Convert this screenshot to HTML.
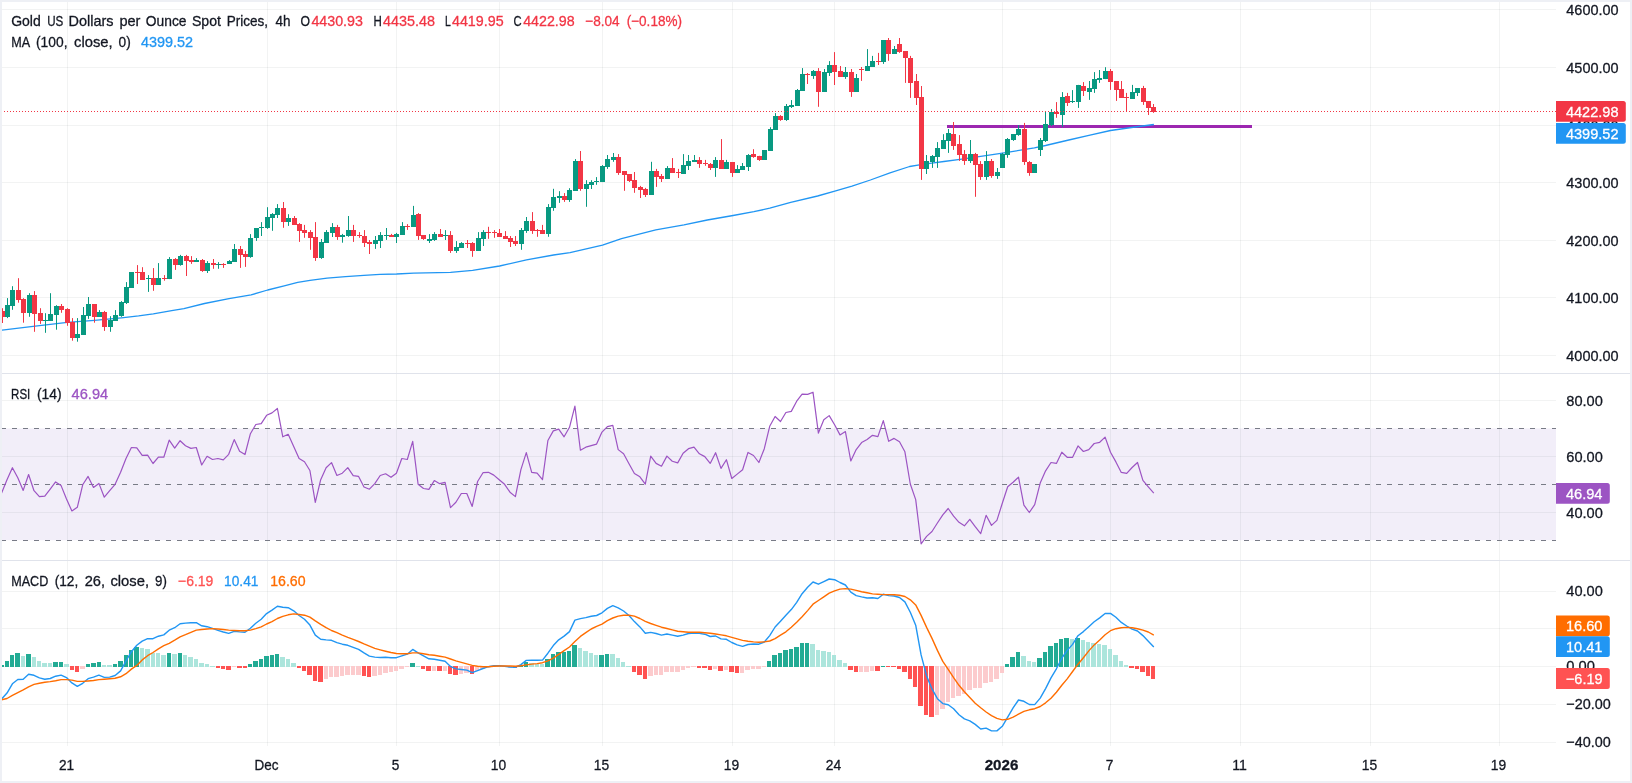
<!DOCTYPE html>
<html lang="en"><head><meta charset="utf-8"><title>Gold US Dollars per Ounce Spot Prices, 4h</title>
<style>html,body{margin:0;padding:0;background:#fff;overflow:hidden}svg{display:block;will-change:transform}</style></head>
<body>
<svg width="1632" height="783" viewBox="0 0 1632 783" font-family='"Liberation Sans", "DejaVu Sans", sans-serif' font-size="15" shape-rendering="auto">
<rect width="1632" height="783" fill="#ffffff"/>
<rect x="2" y="428.5" width="1554" height="111.7" fill="#7e57c2" fill-opacity="0.1"/>
<path d="M2 9.5H1556 M2 67.5H1556 M2 125.5H1556 M2 182.5H1556 M2 240.5H1556 M2 297.5H1556 M2 355.5H1556 M2 400.5H1556 M2 456.5H1556 M2 512.5H1556 M2 591.5H1556 M2 628.5H1556 M2 666.5H1556 M2 704.5H1556 M2 742.5H1556" stroke="#2a2e39" stroke-opacity="0.06" stroke-width="1" fill="none" shape-rendering="crispEdges"/>
<path d="M67.5 2V746 M267.5 2V746 M396.5 2V746 M499.5 2V746 M602.5 2V746 M732.5 2V746 M834.5 2V746 M1002.5 2V746 M1110.5 2V746 M1240.5 2V746 M1370.5 2V746 M1499.5 2V746" stroke="#2a2e39" stroke-opacity="0.06" stroke-width="1" fill="none" shape-rendering="crispEdges"/>
<path d="M2 373.5H1630M2 560.5H1630" stroke="#e0e3eb" stroke-width="1" shape-rendering="crispEdges"/>
<path d="M1 428.5H1556M1 484.5H1556M1 540.5H1556" stroke="#787b86" stroke-width="1" stroke-dasharray="5,6" shape-rendering="crispEdges"/>
<rect x="947" y="125" width="305" height="3" fill="#9c27b0"/>
<polyline points="0.0,330.4 33.1,326.4 67.4,322.3 94.4,320.3 121.4,317.8 138.6,315.9 153.3,313.8 171.7,310.7 183.9,308.7 204.5,303.5 229.0,298.6 251.1,294.9 267.7,290.0 284.2,285.8 297.7,282.4 310.0,280.3 327.1,278.2 345.5,276.7 363.9,275.4 380.0,274.4 396.6,274.0 413.7,273.1 450.5,272.4 472.6,270.3 499.6,266.0 526.5,259.9 553.5,255.0 570.0,252.6 602.5,245.2 621.5,238.6 655.8,229.9 684.0,224.9 707.3,220.0 733.1,215.5 753.9,211.7 769.8,208.2 790.7,202.3 817.6,196.0 834.8,191.1 852.0,186.2 870.4,180.0 890.0,172.9 909.6,166.5 919.4,164.9 931.7,163.1 943.9,161.5 960.0,159.4 975.6,157.2 1002.5,153.2 1034.4,147.8 1045.5,145.5 1068.8,140.0 1090.0,135.2 1110.5,130.5 1135.0,127.0 1153.9,124.5" fill="none" stroke="#2196f3" stroke-width="1.3" stroke-linejoin="round"/>
<path d="M7.5 298.1V318.1 M12.5 286.2V309.8 M29.5 293.2V316.8 M45.5 313.2V332.8 M50.5 293.2V320.9 M56.5 305.2V329.7 M77.5 318.1V341.7 M83.5 307.0V334.9 M88.5 297.0V318.9 M99.5 310.1V316.8 M110.5 316.2V331.8 M115.5 310.1V320.9 M121.5 301.1V316.8 M126.5 282.1V304.0 M131.5 272.1V287.8 M148.5 275.1V291.9 M158.5 263.1V284.9 M169.5 257.1V279.1 M180.5 254.9V265.7 M196.5 258.1V261.9 M207.5 261.1V273.0 M218.5 262.1V268.8 M229.5 260.1V263.9 M234.5 244.0V261.7 M250.5 234.1V257.8 M256.5 228.0V240.9 M261.5 222.1V236.0 M267.5 207.2V228.9 M272.5 213.1V230.8 M277.5 204.1V218.0 M288.5 214.2V225.9 M321.5 239.0V258.9 M326.5 230.1V242.7 M332.5 223.1V237.0 M342.5 233.9V242.7 M348.5 216.0V236.8 M375.5 236.0V248.9 M380.5 232.1V248.0 M386.5 228.0V239.9 M396.5 232.9V243.0 M402.5 222.1V234.8 M413.5 205.9V226.8 M429.5 234.1V243.0 M434.5 232.1V240.9 M445.5 230.1V240.0 M456.5 241.1V252.9 M461.5 242.1V247.9 M478.5 232.1V250.9 M483.5 230.1V246.0 M521.5 228.0V249.8 M526.5 217.0V232.9 M548.5 204.1V236.8 M553.5 188.8V210.8 M559.5 191.2V202.9 M569.5 188.2V201.9 M575.5 159.1V190.8 M586.5 180.2V206.8 M591.5 180.2V189.0 M596.5 177.1V184.8 M602.5 165.1V182.0 M607.5 155.0V168.9 M613.5 153.0V161.8 M651.5 161.8V194.9 M667.5 166.1V179.0 M683.5 154.1V173.8 M688.5 155.0V170.0 M694.5 155.0V161.8 M715.5 157.1V176.9 M726.5 159.9V168.8 M737.5 165.1V172.8 M742.5 163.0V169.8 M748.5 154.1V171.0 M764.5 150.1V159.9 M770.5 127.2V150.7 M775.5 113.1V129.9 M786.5 104.0V120.9 M791.5 100.1V108.0 M797.5 89.0V105.8 M802.5 68.1V90.9 M813.5 70.0V78.9 M824.5 69.0V91.7 M829.5 61.1V76.0 M845.5 67.0V78.9 M856.5 74.0V91.7 M867.5 49.1V70.9 M872.5 55.9V67.0 M883.5 40.0V63.9 M894.5 46.0V54.0 M926.5 155.0V174.0 M932.5 155.0V167.9 M937.5 142.1V167.9 M943.5 134.2V149.0 M948.5 129.0V152.9 M970.5 140.0V163.0 M986.5 151.1V179.9 M997.5 168.0V178.9 M1002.5 152.9V167.9 M1007.5 138.0V157.8 M1013.5 134.2V140.9 M1018.5 125.1V135.8 M1034.5 164.0V172.9 M1040.5 138.0V156.0 M1045.5 111.9V142.0 M1051.5 109.1V126.0 M1062.5 92.1V126.9 M1072.5 90.1V103.0 M1078.5 84.9V107.9 M1089.5 81.0V99.9 M1094.5 72.1V92.9 M1099.5 70.0V82.9 M1105.5 67.2V79.1 M1132.5 84.9V99.0 M1137.5 88.0V96.0" stroke="#089981" stroke-width="1" fill="none"/>
<path d="M2.5 308.2V323.0 M18.5 278.2V302.7 M23.5 298.2V322.7 M34.5 291.1V331.8 M40.5 308.2V323.9 M61.5 304.0V312.8 M67.5 308.2V325.8 M72.5 318.1V340.7 M94.5 304.0V322.7 M104.5 310.9V330.9 M137.5 265.1V284.0 M142.5 267.2V279.8 M153.5 268.1V290.8 M164.5 275.1V280.7 M175.5 258.1V269.9 M186.5 254.9V276.0 M191.5 256.1V263.9 M202.5 259.0V271.9 M213.5 259.0V268.8 M223.5 263.2V267.9 M240.5 246.0V267.9 M245.5 250.9V266.9 M283.5 202.0V227.8 M294.5 216.0V224.7 M299.5 223.1V241.9 M304.5 224.9V237.8 M310.5 230.1V249.8 M315.5 222.1V260.9 M337.5 224.9V239.9 M353.5 224.9V241.9 M359.5 232.1V237.8 M364.5 230.1V247.0 M369.5 240.0V254.0 M391.5 233.9V236.8 M407.5 224.1V229.9 M418.5 213.1V239.9 M423.5 235.1V239.9 M440.5 229.0V236.8 M450.5 231.1V252.9 M467.5 240.0V248.0 M472.5 242.1V256.8 M488.5 226.8V238.8 M494.5 230.1V237.8 M499.5 229.0V236.8 M505.5 231.1V238.8 M510.5 236.0V247.0 M515.5 236.0V246.0 M532.5 212.1V233.9 M537.5 229.0V236.8 M542.5 224.9V233.9 M564.5 193.1V201.9 M580.5 151.0V190.8 M618.5 154.1V174.9 M624.5 171.0V190.8 M629.5 174.0V182.0 M634.5 172.0V192.8 M640.5 185.9V198.0 M645.5 187.9V197.0 M656.5 168.9V186.9 M661.5 174.0V182.0 M672.5 158.1V172.8 M678.5 168.9V178.0 M699.5 157.1V167.9 M705.5 159.9V165.8 M710.5 163.0V170.0 M721.5 139.1V168.8 M732.5 162.2V176.9 M753.5 149.2V157.8 M759.5 155.8V160.9 M780.5 115.1V120.9 M807.5 73.0V84.0 M818.5 68.1V106.8 M834.5 52.1V85.0 M840.5 66.0V76.8 M851.5 69.0V96.9 M861.5 67.0V80.9 M878.5 52.9V65.0 M888.5 38.0V60.8 M899.5 38.0V52.9 M905.5 51.0V82.9 M910.5 55.9V97.9 M916.5 74.0V105.0 M921.5 86.0V179.9 M953.5 122.0V149.9 M959.5 135.1V160.9 M964.5 150.1V164.9 M975.5 152.9V196.8 M980.5 161.1V179.9 M991.5 159.0V177.8 M1024.5 122.9V164.9 M1029.5 161.1V175.8 M1056.5 102.1V117.8 M1067.5 92.9V106.0 M1083.5 82.1V96.0 M1110.5 69.0V89.9 M1116.5 81.0V100.9 M1121.5 81.0V97.8 M1126.5 92.9V111.9 M1143.5 85.9V104.9 M1148.5 101.1V115.0 M1153.5 104.0V112.9" stroke="#f23645" stroke-width="1" fill="none"/>
<path d="M5 305h5v12h-5z M10 290h5v16h-5z M27 295h5v18h-5z M43 320h5v1h-5z M48 314h5v7h-5z M54 306h5v9h-5z M75 334h5v4h-5z M81 315h5v20h-5z M86 304h5v12h-5z M97 312h5v5h-5z M108 320h5v7h-5z M113 315h5v6h-5z M119 302h5v14h-5z M124 287h5v16h-5z M129 272h5v16h-5z M146 278h5v1h-5z M156 278h5v7h-5z M167 259h5v20h-5z M178 256h5v9h-5z M194 260h5v2h-5z M205 263h5v8h-5z M216 264h5v1h-5z M227 261h5v3h-5z M232 249h5v13h-5z M248 238h5v19h-5z M254 228h5v10h-5z M259 227h5v1h-5z M265 217h5v11h-5z M270 214h5v4h-5z M275 208h5v7h-5z M286 218h5v4h-5z M319 242h5v16h-5z M324 232h5v11h-5z M330 227h5v6h-5z M340 235h5v2h-5z M346 230h5v6h-5z M373 240h5v4h-5z M378 235h5v6h-5z M384 235h5v1h-5z M394 234h5v3h-5z M400 226h5v9h-5z M411 215h5v12h-5z M427 239h5v2h-5z M432 234h5v6h-5z M443 235h5v1h-5z M454 247h5v4h-5z M459 243h5v5h-5z M476 238h5v13h-5z M481 232h5v7h-5z M519 230h5v14h-5z M524 221h5v10h-5z M546 207h5v27h-5z M551 197h5v11h-5z M557 196h5v2h-5z M567 190h5v10h-5z M573 161h5v30h-5z M584 184h5v5h-5z M589 182h5v3h-5z M594 181h5v1h-5z M600 166h5v16h-5z M605 159h5v8h-5z M611 157h5v3h-5z M649 171h5v24h-5z M665 168h5v11h-5z M681 165h5v9h-5z M686 161h5v5h-5z M692 160h5v2h-5z M713 160h5v8h-5z M724 162h5v7h-5z M735 169h5v4h-5z M740 166h5v4h-5z M746 155h5v12h-5z M762 150h5v10h-5z M768 129h5v22h-5z M773 116h5v14h-5z M784 106h5v14h-5z M789 105h5v2h-5z M795 90h5v16h-5z M800 74h5v17h-5z M811 71h5v5h-5z M822 72h5v20h-5z M827 65h5v8h-5z M843 72h5v5h-5z M854 78h5v14h-5z M865 66h5v5h-5z M870 61h5v6h-5z M881 40h5v22h-5z M892 49h5v5h-5z M924 161h5v8h-5z M930 156h5v6h-5z M935 148h5v9h-5z M941 140h5v9h-5z M946 133h5v8h-5z M968 154h5v7h-5z M984 161h5v16h-5z M995 172h5v4h-5z M1000 154h5v14h-5z M1005 139h5v16h-5z M1011 134h5v6h-5z M1016 129h5v6h-5z M1032 164h5v9h-5z M1038 140h5v10h-5z M1043 124h5v17h-5z M1049 112h5v13h-5z M1060 97h5v18h-5z M1070 101h5v1h-5z M1076 85h5v17h-5z M1087 88h5v4h-5z M1092 79h5v10h-5z M1097 78h5v2h-5z M1103 71h5v8h-5z M1130 92h5v7h-5z M1135 88h5v5h-5z" fill="#089981"/>
<path d="M0 311h5v6h-5z M16 290h5v10h-5z M21 299h5v14h-5z M32 295h5v19h-5z M38 313h5v8h-5z M59 306h5v4h-5z M65 309h5v14h-5z M70 322h5v16h-5z M92 304h5v13h-5z M102 312h5v15h-5z M135 272h5v1h-5z M140 272h5v8h-5z M151 278h5v7h-5z M162 278h5v1h-5z M173 259h5v6h-5z M184 256h5v5h-5z M189 260h5v2h-5z M200 260h5v11h-5z M211 263h5v2h-5z M221 264h5v1h-5z M238 249h5v6h-5z M243 254h5v3h-5z M281 208h5v14h-5z M292 218h5v7h-5z M297 224h5v7h-5z M302 230h5v3h-5z M308 232h5v6h-5z M313 237h5v21h-5z M335 227h5v10h-5z M351 230h5v6h-5z M357 235h5v1h-5z M362 236h5v7h-5z M367 242h5v2h-5z M389 235h5v2h-5z M405 226h5v1h-5z M416 214h5v22h-5z M421 235h5v4h-5z M438 234h5v3h-5z M448 235h5v16h-5z M465 243h5v1h-5z M470 243h5v8h-5z M486 232h5v1h-5z M492 232h5v1h-5z M497 233h5v4h-5z M503 236h5v3h-5z M508 238h5v4h-5z M513 241h5v3h-5z M530 221h5v10h-5z M535 230h5v1h-5z M540 230h5v4h-5z M562 196h5v4h-5z M578 161h5v28h-5z M616 157h5v16h-5z M622 171h5v4h-5z M627 174h5v7h-5z M632 180h5v8h-5z M638 187h5v3h-5z M643 189h5v6h-5z M654 171h5v6h-5z M659 176h5v3h-5z M670 168h5v5h-5z M676 172h5v1h-5z M697 160h5v4h-5z M703 163h5v1h-5z M708 164h5v4h-5z M719 160h5v9h-5z M730 162h5v11h-5z M751 154h5v3h-5z M757 156h5v4h-5z M778 116h5v4h-5z M805 74h5v1h-5z M816 71h5v21h-5z M832 65h5v7h-5z M838 71h5v6h-5z M849 72h5v20h-5z M859 69h5v1h-5z M876 61h5v1h-5z M886 40h5v14h-5z M897 44h5v8h-5z M903 51h5v7h-5z M908 58h5v25h-5z M914 81h5v17h-5z M919 97h5v72h-5z M951 134h5v12h-5z M957 144h5v11h-5z M962 154h5v7h-5z M973 154h5v11h-5z M978 164h5v13h-5z M989 161h5v15h-5z M1022 129h5v33h-5z M1027 162h5v11h-5z M1054 112h5v2h-5z M1065 96h5v7h-5z M1081 86h5v5h-5z M1108 71h5v11h-5z M1114 81h5v9h-5z M1119 89h5v9h-5z M1124 97h5v1h-5z M1141 88h5v14h-5z M1146 101h5v7h-5z M1151 107h5v5h-5z" fill="#f23645"/>
<path d="M1 111.5H1556" stroke="#f23645" stroke-width="1" stroke-dasharray="1,2" shape-rendering="crispEdges"/>
<polyline points="1.6,492.9 7.0,479.7 12.4,467.7 17.8,477.8 23.2,490.4 28.6,474.5 34.0,490.7 39.4,496.6 44.8,496.2 50.2,489.2 55.6,481.9 61.1,485.6 66.5,499.0 71.9,511.0 77.3,507.3 82.7,484.8 88.1,476.4 93.5,487.4 98.9,483.4 104.3,497.2 109.7,490.7 115.1,484.3 120.6,472.3 126.0,458.5 131.4,447.5 136.8,447.9 142.2,455.4 147.6,455.2 153.0,463.5 158.4,457.2 163.8,457.2 169.2,440.1 174.7,448.1 180.1,440.7 185.5,445.7 190.9,448.4 196.3,447.5 201.7,465.0 207.1,456.3 212.5,459.5 217.9,458.5 223.3,459.8 228.7,454.3 234.2,439.6 239.6,451.2 245.0,454.5 250.4,433.7 255.8,424.5 261.2,423.6 266.6,415.3 272.0,412.9 277.4,408.5 282.8,436.8 288.2,434.3 293.7,446.6 299.1,458.5 304.5,461.8 309.9,470.5 315.3,502.3 320.7,479.7 326.1,467.7 331.5,462.6 336.9,475.5 342.3,473.2 347.8,467.7 353.2,475.6 358.6,476.4 364.0,487.0 369.4,489.2 374.8,483.7 380.2,475.5 385.6,473.8 391.0,477.3 396.4,473.2 401.8,458.5 407.3,459.5 412.7,441.4 418.1,484.3 423.5,488.5 428.9,489.4 434.3,480.6 439.7,483.7 445.1,482.4 450.5,507.6 455.9,502.3 461.3,493.5 466.8,493.5 472.2,506.4 477.6,481.5 483.0,472.7 488.4,472.3 493.8,475.1 499.2,479.7 504.6,484.3 510.0,492.2 515.4,496.6 520.9,469.6 526.3,452.6 531.7,472.3 537.1,473.2 542.5,479.7 547.9,440.5 553.3,430.9 558.7,429.1 564.1,436.8 569.5,427.3 574.9,406.1 580.4,450.2 585.8,447.2 591.2,445.6 596.6,444.1 602.0,432.1 607.4,426.6 612.8,425.3 618.2,449.6 623.6,453.8 629.0,463.8 634.4,473.5 639.9,476.8 645.3,484.2 650.7,456.1 656.1,463.4 661.5,466.2 666.9,456.1 672.3,461.2 677.7,462.9 683.1,453.3 688.5,448.7 694.0,447.2 699.4,453.8 704.8,456.6 710.2,463.4 715.6,452.7 721.0,468.4 726.4,459.7 731.8,478.5 737.2,474.1 742.6,469.8 748.0,452.4 753.5,455.5 758.9,462.5 764.3,448.7 769.7,426.3 775.1,416.5 780.5,421.5 785.9,412.5 791.3,411.4 796.7,401.2 802.1,394.1 807.6,394.4 813.0,392.2 818.4,433.1 823.8,419.8 829.2,415.6 834.6,424.8 840.0,434.9 845.4,431.6 850.8,461.0 856.2,449.6 861.6,442.6 867.1,439.5 872.5,435.3 877.9,436.6 883.3,420.6 888.7,441.3 894.1,438.4 899.5,441.7 904.9,451.8 910.3,484.0 915.7,499.6 921.1,543.8 926.6,536.4 932.0,531.5 937.4,523.0 942.8,514.9 948.2,508.5 953.6,516.2 959.0,522.3 964.4,525.8 969.8,519.3 975.2,526.7 980.7,533.7 986.1,515.3 991.5,525.4 996.9,520.4 1002.3,503.3 1007.7,486.8 1013.1,482.2 1018.5,477.2 1023.9,505.2 1029.3,512.5 1034.7,504.6 1040.2,483.1 1045.6,470.8 1051.0,462.5 1056.4,463.4 1061.8,452.2 1067.2,457.3 1072.6,457.3 1078.0,445.9 1083.4,451.5 1088.8,449.6 1094.2,443.5 1099.7,442.3 1105.1,437.1 1110.5,452.2 1115.9,461.9 1121.3,472.4 1126.7,473.3 1132.1,467.5 1137.5,462.5 1142.9,480.3 1148.3,486.8 1153.8,493.2" fill="none" stroke="#9c54c3" stroke-width="1.2" stroke-linejoin="round"/>
<path d="M2 665H4V667H2z M5 661H9V667H5z M10 655H14V667H10z M15 653H20V667H15z M26 654H31V667H26z M53 662H58V667H53z M59 662H63V667H59z M86 664H90V667H86z M91 663H96V667H91z M97 662H101V667H97z M113 664H117V667H113z M118 661H123V667H118z M124 655H128V667H124z M129 650H133V667H129z M134 647H139V667H134z M167 653H171V667H167z M178 653H182V667H178z M248 664H252V667H248z M253 661H258V667H253z M259 659H263V667H259z M264 656H269V667H264z M270 655H274V667H270z M275 654H279V667H275z M410 663H415V667H410z M518 665H523V667H518z M524 662H528V667H524z M545 659H550V667H545z M551 654H555V667H551z M556 652H561V667H556z M562 652H566V667H562z M567 651H571V667H567z M572 645H577V667H572z M599 655H604V667H599z M605 654H609V667H605z M767 661H771V667H767z M772 655H777V667H772z M778 653H782V667H778z M783 650H788V667H783z M789 649H793V667H789z M794 647H799V667H794z M800 643H804V667H800z M805 643H809V667H805z M881 666H885V667H881z M1005 664H1009V667H1005z M1010 657H1015V667H1010z M1016 652H1020V667H1016z M1037 658H1042V667H1037z M1043 652H1047V667H1043z M1048 646H1053V667H1048z M1054 643H1058V667H1054z M1059 639H1063V667H1059z M1064 638H1069V667H1064z M1075 638H1080V667H1075z" fill="#22ab94"/>
<path d="M21 656H25V667H21z M32 657H36V667H32z M37 661H41V667H37z M42 663H47V667H42z M48 663H52V667H48z M64 664H69V667H64z M102 665H106V667H102z M107 665H112V667H107z M140 648H144V667H140z M145 649H150V667H145z M151 653H155V667H151z M156 653H160V667H156z M161 655H166V667H161z M172 654H177V667H172z M183 655H187V667H183z M188 657H193V667H188z M194 659H198V667H194z M199 663H204V667H199z M205 664H209V667H205z M210 666H215V667H210z M280 657H285V667H280z M286 659H290V667H286z M291 663H296V667H291z M416 666H420V667H416z M486 666H490V667H486z M491 666H496V667H491z M497 666H501V667H497z M529 663H534V667H529z M535 664H539V667H535z M540 664H544V667H540z M578 648H582V667H578z M583 651H588V667H583z M589 653H593V667H589z M594 655H598V667H594z M610 654H615V667H610z M616 658H620V667H616z M621 662H625V667H621z M626 666H631V667H626z M810 644H815V667H810z M816 650H820V667H816z M821 651H826V667H821z M827 652H831V667H827z M832 655H836V667H832z M837 660H842V667H837z M843 663H847V667H843z M1021 656H1026V667H1021z M1027 661H1031V667H1027z M1032 662H1036V667H1032z M1070 639H1074V667H1070z M1081 640H1085V667H1081z M1086 642H1090V667H1086z M1091 643H1096V667H1091z M1097 644H1101V667H1097z M1102 645H1107V667H1102z M1108 649H1112V667H1108z M1113 655H1118V667H1113z M1119 661H1123V667H1119z M1124 665H1128V667H1124z" fill="#ace5dc"/>
<path d="M70 666H74V670H70z M75 666H79V672H75z M216 666H220V668H216z M221 666H225V669H221z M226 666H231V670H226z M237 666H242V668H237z M243 666H247V668H243z M297 666H301V668H297z M302 666H306V671H302z M307 666H312V675H307z M313 666H317V681H313z M318 666H323V682H318z M362 666H366V676H362z M367 666H371V677H367z M421 666H425V669H421z M426 666H431V671H426z M437 666H442V671H437z M448 666H452V674H448z M453 666H458V675H453z M470 666H474V674H470z M513 666H517V668H513z M632 666H636V672H632z M637 666H642V675H637z M643 666H647V679H643z M697 666H701V668H697z M702 666H707V668H702z M708 666H712V670H708z M718 666H723V671H718z M729 666H734V672H729z M735 666H739V673H735z M848 666H853V670H848z M854 666H858V672H854z M875 666H880V671H875z M886 666H890V667H886z M891 666H896V667H891z M897 666H901V669H897z M902 666H907V672H902z M908 666H912V679H908z M913 666H917V687H913z M918 666H923V706H918z M924 666H928V715H924z M929 666H934V717H929z M1129 666H1134V668H1129z M1135 666H1139V669H1135z M1140 666H1145V672H1140z M1146 666H1150V676H1146z M1151 666H1155V679H1151z" fill="#ff5252"/>
<path d="M80 666H85V669H80z M232 666H236V667H232z M324 666H328V679H324z M329 666H333V677H329z M334 666H339V677H334z M340 666H344V676H340z M345 666H350V675H345z M351 666H355V675H351z M356 666H361V675H356z M372 666H377V676H372z M378 666H382V675H378z M383 666H388V673H383z M389 666H393V672H389z M394 666H398V671H394z M399 666H404V669H399z M405 666H409V667H405z M432 666H436V671H432z M443 666H447V671H443z M459 666H463V674H459z M464 666H469V673H464z M475 666H479V671H475z M480 666H485V669H480z M502 666H507V667H502z M508 666H512V668H508z M648 666H653V676H648z M654 666H658V675H654z M659 666H663V675H659z M664 666H669V672H664z M670 666H674V672H670z M675 666H680V672H675z M681 666H685V670H681z M686 666H690V668H686z M691 666H696V667H691z M713 666H717V669H713z M724 666H728V670H724z M740 666H744V673H740z M745 666H750V670H745z M751 666H755V669H751z M756 666H761V669H756z M762 666H766V667H762z M859 666H863V672H859z M864 666H869V672H864z M870 666H874V671H870z M935 666H939V715H935z M940 666H945V709H940z M946 666H950V702H946z M951 666H955V698H951z M956 666H961V696H956z M962 666H966V694H962z M967 666H972V690H967z M973 666H977V688H973z M978 666H982V688H978z M983 666H988V683H983z M989 666H993V682H989z M994 666H999V679H994z M1000 666H1004V673H1000z" fill="#fccbcd"/>
<polyline points="1.6,698.9 7.0,693.1 12.4,683.8 17.8,679.5 23.2,679.2 28.6,674.3 34.0,675.3 39.4,677.9 44.8,679.2 50.2,678.5 55.6,676.2 61.1,675.1 66.5,677.6 71.9,682.9 77.3,686.4 82.7,683.3 88.1,678.7 93.5,677.2 98.9,675.2 104.3,677.4 109.7,677.1 115.1,675.5 120.6,670.9 126.0,661.0 131.4,651.7 136.8,645.3 142.2,641.1 147.6,638.6 153.0,638.7 158.4,636.2 163.8,634.9 169.2,630.2 174.7,627.7 180.1,623.8 185.5,623.1 190.9,622.8 196.3,622.7 201.7,625.8 207.1,626.7 212.5,628.4 217.9,630.4 223.3,632.0 228.7,633.4 234.2,631.3 239.6,631.9 245.0,632.2 250.4,628.2 255.8,623.2 261.2,619.2 266.6,613.6 272.0,610.1 277.4,606.3 282.8,607.2 288.2,607.7 293.7,610.8 299.1,615.5 304.5,619.3 309.9,625.1 315.3,635.1 320.7,639.3 326.1,639.9 331.5,640.3 336.9,642.7 342.3,644.2 347.8,645.3 353.2,647.4 358.6,649.4 364.0,652.9 369.4,656.1 374.8,657.1 380.2,657.5 385.6,657.3 391.0,657.7 396.4,657.7 401.8,655.9 407.3,654.2 412.7,649.4 418.1,652.9 423.5,655.9 428.9,658.8 434.3,659.3 439.7,660.3 445.1,661.2 450.5,666.4 455.9,668.9 461.3,669.5 466.8,670.1 472.2,672.6 477.6,670.6 483.0,668.5 488.4,666.7 493.8,665.8 499.2,665.7 504.6,666.3 510.0,667.0 515.4,667.3 520.9,664.6 526.3,660.4 531.7,660.3 537.1,660.3 542.5,660.1 547.9,653.2 553.3,645.6 558.7,639.8 564.1,636.1 569.5,631.6 574.9,620.1 580.4,618.6 585.8,617.6 591.2,616.3 596.6,615.5 602.0,612.8 607.4,608.4 612.8,605.7 618.2,607.8 623.6,611.0 629.0,615.5 634.4,621.6 639.9,626.9 645.3,633.3 650.7,632.4 656.1,633.5 661.5,635.1 666.9,634.0 672.3,635.1 677.7,636.3 683.1,635.1 688.5,633.5 694.0,633.0 699.4,633.4 704.8,634.2 710.2,636.5 715.6,636.0 721.0,638.9 726.4,639.3 731.8,642.5 737.2,644.9 742.6,646.4 748.0,644.5 753.5,644.0 758.9,644.2 764.3,642.0 769.7,635.6 775.1,627.0 780.5,621.3 785.9,615.3 791.3,609.6 796.7,602.4 802.1,593.7 807.6,587.2 813.0,582.0 818.4,584.2 823.8,581.6 829.2,579.0 834.6,579.7 840.0,582.5 845.4,585.0 850.8,592.2 856.2,595.6 861.6,596.9 867.1,598.0 872.5,597.8 877.9,598.5 883.3,594.3 888.7,595.6 894.1,596.0 899.5,597.5 904.9,601.9 910.3,612.2 915.7,625.2 921.1,654.9 926.6,675.9 932.0,688.9 937.4,698.7 942.8,703.6 948.2,704.8 953.6,708.8 959.0,714.7 964.4,718.9 969.8,720.8 975.2,724.4 980.7,729.0 986.1,728.1 991.5,730.9 996.9,730.9 1002.3,726.3 1007.7,717.1 1013.1,707.9 1018.5,700.0 1023.9,701.3 1029.3,704.5 1034.7,704.6 1040.2,698.1 1045.6,688.6 1051.0,677.9 1056.4,668.8 1061.8,658.2 1067.2,650.4 1072.6,644.4 1078.0,635.7 1083.4,631.6 1088.8,626.7 1094.2,621.8 1099.7,617.9 1105.1,613.5 1110.5,613.4 1115.9,617.2 1121.3,622.4 1126.7,626.0 1132.1,629.1 1137.5,631.0 1142.9,635.6 1148.3,641.2 1153.8,647.1" fill="none" stroke="#2196f3" stroke-width="1.4" stroke-linejoin="round"/>
<polyline points="1.6,699.8 7.0,698.5 12.4,695.4 17.8,692.6 23.2,689.9 28.6,686.9 34.0,684.4 39.4,683.2 44.8,682.3 50.2,681.6 55.6,680.7 61.1,679.6 66.5,679.6 71.9,680.1 77.3,681.4 82.7,681.4 88.1,681.0 93.5,680.5 98.9,679.6 104.3,679.2 109.7,678.7 115.1,678.3 120.6,676.8 126.0,673.7 131.4,669.1 136.8,665.4 142.2,659.9 147.6,655.7 153.0,652.5 158.4,648.9 163.8,645.7 169.2,643.3 174.7,640.2 180.1,636.9 185.5,634.7 190.9,632.3 196.3,630.1 201.7,629.5 207.1,629.0 212.5,628.6 217.9,629.0 223.3,629.5 228.7,630.1 234.2,630.5 239.6,630.8 245.0,630.8 250.4,630.1 255.8,628.6 261.2,626.8 266.6,624.0 272.0,621.6 277.4,618.5 282.8,616.3 288.2,614.8 293.7,613.9 299.1,614.5 304.5,615.2 309.9,617.2 315.3,620.9 320.7,624.4 326.1,627.7 331.5,630.5 336.9,632.7 342.3,635.1 347.8,637.3 353.2,639.3 358.6,641.5 364.0,643.9 369.4,646.1 374.8,648.3 380.2,649.8 385.6,651.2 391.0,652.5 396.4,653.5 401.8,653.8 407.3,653.8 412.7,652.9 418.1,652.9 423.5,653.8 428.9,654.7 434.3,655.3 439.7,656.2 445.1,657.1 450.5,659.0 455.9,660.8 461.3,662.3 466.8,663.9 472.2,665.4 477.6,666.3 483.0,666.7 488.4,666.7 493.8,666.3 499.2,666.0 504.6,666.0 510.0,666.0 515.4,666.3 520.9,665.8 526.3,664.9 531.7,664.1 537.1,663.6 542.5,662.7 547.9,660.8 553.3,658.1 558.7,654.4 564.1,650.7 569.5,647.0 574.9,641.5 580.4,636.4 585.8,632.7 591.2,629.0 596.6,626.3 602.0,624.1 607.4,620.7 612.8,618.0 618.2,616.1 623.6,615.2 629.0,615.2 634.4,616.1 639.9,618.5 645.3,621.3 650.7,623.5 656.1,625.3 661.5,627.2 666.9,628.5 672.3,629.9 677.7,631.2 683.1,631.8 688.5,632.3 694.0,632.3 699.4,632.3 704.8,632.7 710.2,633.2 715.6,634.0 721.0,634.9 726.4,635.8 731.8,637.3 737.2,638.8 742.6,640.4 748.0,641.3 753.5,641.9 758.9,642.3 764.3,641.9 769.7,641.0 775.1,638.6 780.5,635.1 785.9,631.8 791.3,627.2 796.7,622.2 802.1,616.7 807.6,610.6 813.0,604.2 818.4,600.5 823.8,596.8 829.2,593.2 834.6,590.9 840.0,589.1 845.4,588.6 850.8,589.1 856.2,590.4 861.6,591.7 867.1,592.8 872.5,593.9 877.9,594.3 883.3,594.6 888.7,594.6 894.1,594.8 899.5,595.2 904.9,596.5 910.3,599.8 915.7,604.9 921.1,615.4 926.6,627.4 932.0,638.4 937.4,650.4 942.8,661.4 948.2,669.3 953.6,677.6 959.0,685.3 964.4,691.8 969.8,697.6 975.2,703.2 980.7,707.8 986.1,712.0 991.5,715.7 996.9,718.4 1002.3,719.9 1007.7,719.3 1013.1,717.1 1018.5,714.2 1023.9,711.4 1029.3,709.8 1034.7,708.7 1040.2,706.5 1045.6,702.8 1051.0,698.2 1056.4,692.3 1061.8,685.3 1067.2,678.9 1072.6,671.5 1078.0,664.2 1083.4,657.7 1088.8,650.9 1094.2,644.9 1099.7,639.9 1105.1,634.7 1110.5,630.7 1115.9,628.7 1121.3,627.8 1126.7,627.4 1132.1,627.8 1137.5,628.7 1142.9,630.1 1148.3,632.0 1153.8,635.1" fill="none" stroke="#ff6d00" stroke-width="1.4" stroke-linejoin="round"/>
<text x="11.15" y="25.8" fill="#131722" stroke="#131722" stroke-width="0.3" textLength="29.6" lengthAdjust="spacingAndGlyphs">Gold</text>
<text x="47.2" y="25.8" fill="#131722" stroke="#131722" stroke-width="0.3" textLength="16.1" lengthAdjust="spacingAndGlyphs">US</text>
<text x="68.6" y="25.8" fill="#131722" stroke="#131722" stroke-width="0.3" textLength="45.0" lengthAdjust="spacingAndGlyphs">Dollars</text>
<text x="119.4" y="25.8" fill="#131722" stroke="#131722" stroke-width="0.3" textLength="21.0" lengthAdjust="spacingAndGlyphs">per</text>
<text x="145.8" y="25.8" fill="#131722" stroke="#131722" stroke-width="0.3" textLength="40.7" lengthAdjust="spacingAndGlyphs">Ounce</text>
<text x="191.9" y="25.8" fill="#131722" stroke="#131722" stroke-width="0.3" textLength="29.0" lengthAdjust="spacingAndGlyphs">Spot</text>
<text x="226.7" y="25.8" fill="#131722" stroke="#131722" stroke-width="0.3" textLength="41.4" lengthAdjust="spacingAndGlyphs">Prices,</text>
<text x="275.6" y="25.8" fill="#131722" stroke="#131722" stroke-width="0.3" textLength="15.0" lengthAdjust="spacingAndGlyphs">4h</text>
<text x="300.6" y="25.8" fill="#131722" stroke="#131722" stroke-width="0.3" textLength="9.5" lengthAdjust="spacingAndGlyphs">O</text>
<text x="373.4" y="25.8" fill="#131722" stroke="#131722" stroke-width="0.3" textLength="8.3" lengthAdjust="spacingAndGlyphs">H</text>
<text x="445" y="25.8" fill="#131722" stroke="#131722" stroke-width="0.3" textLength="5.8" lengthAdjust="spacingAndGlyphs">L</text>
<text x="513.6" y="25.8" fill="#131722" stroke="#131722" stroke-width="0.3" textLength="8.1" lengthAdjust="spacingAndGlyphs">C</text>
<text x="311.4" y="25.8" fill="#f23645" stroke="#f23645" stroke-width="0.3" textLength="51.5" lengthAdjust="spacingAndGlyphs">4430.93</text>
<text x="383" y="25.8" fill="#f23645" stroke="#f23645" stroke-width="0.3" textLength="52" lengthAdjust="spacingAndGlyphs">4435.48</text>
<text x="452" y="25.8" fill="#f23645" stroke="#f23645" stroke-width="0.3" textLength="51.6" lengthAdjust="spacingAndGlyphs">4419.95</text>
<text x="523.2" y="25.8" fill="#f23645" stroke="#f23645" stroke-width="0.3" textLength="51.5" lengthAdjust="spacingAndGlyphs">4422.98</text>
<text x="585.2" y="25.8" fill="#f23645" stroke="#f23645" stroke-width="0.3" textLength="34.4" lengthAdjust="spacingAndGlyphs">−8.04</text>
<text x="626.7" y="25.8" fill="#f23645" stroke="#f23645" stroke-width="0.3" textLength="55.3" lengthAdjust="spacingAndGlyphs">(−0.18%)</text>
<text x="11.15" y="46.6" fill="#131722" stroke="#131722" stroke-width="0.3" textLength="18.9" lengthAdjust="spacingAndGlyphs">MA</text>
<text x="36" y="46.6" fill="#131722" stroke="#131722" stroke-width="0.3" textLength="31.5" lengthAdjust="spacingAndGlyphs">(100,</text>
<text x="74" y="46.6" fill="#131722" stroke="#131722" stroke-width="0.3" textLength="38.6" lengthAdjust="spacingAndGlyphs">close,</text>
<text x="118.6" y="46.6" fill="#131722" stroke="#131722" stroke-width="0.3" textLength="12.2" lengthAdjust="spacingAndGlyphs">0)</text>
<text x="140.9" y="46.6" fill="#2196f3" stroke="#2196f3" stroke-width="0.3" textLength="52.1" lengthAdjust="spacingAndGlyphs">4399.52</text>
<text x="11.1" y="398.8" fill="#131722" stroke="#131722" stroke-width="0.3" textLength="19.2" lengthAdjust="spacingAndGlyphs">RSI</text>
<text x="37" y="398.8" fill="#131722" stroke="#131722" stroke-width="0.3" textLength="24.7" lengthAdjust="spacingAndGlyphs">(14)</text>
<text x="71.6" y="398.8" fill="#9c54c3" stroke="#9c54c3" stroke-width="0.3" textLength="36.6" lengthAdjust="spacingAndGlyphs">46.94</text>
<text x="11.15" y="585.8" fill="#131722" stroke="#131722" stroke-width="0.3" textLength="37.1" lengthAdjust="spacingAndGlyphs">MACD</text>
<text x="54.7" y="585.8" fill="#131722" stroke="#131722" stroke-width="0.3" textLength="23.6" lengthAdjust="spacingAndGlyphs">(12,</text>
<text x="84.7" y="585.8" fill="#131722" stroke="#131722" stroke-width="0.3" textLength="20.4" lengthAdjust="spacingAndGlyphs">26,</text>
<text x="110.4" y="585.8" fill="#131722" stroke="#131722" stroke-width="0.3" textLength="38.6" lengthAdjust="spacingAndGlyphs">close,</text>
<text x="155.0" y="585.8" fill="#131722" stroke="#131722" stroke-width="0.3" textLength="11.8" lengthAdjust="spacingAndGlyphs">9)</text>
<text x="178" y="585.8" fill="#ff5252" stroke="#ff5252" stroke-width="0.3" textLength="35.4" lengthAdjust="spacingAndGlyphs">−6.19</text>
<text x="224.1" y="585.8" fill="#2196f3" stroke="#2196f3" stroke-width="0.3" textLength="34.3" lengthAdjust="spacingAndGlyphs">10.41</text>
<text x="270.2" y="585.8" fill="#ff6d00" stroke="#ff6d00" stroke-width="0.3" textLength="35.4" lengthAdjust="spacingAndGlyphs">16.60</text>
<text x="1566.3" y="15" fill="#131722" stroke="#131722" stroke-width="0.3" textLength="52.3" lengthAdjust="spacingAndGlyphs">4600.00</text>
<text x="1566.3" y="73" fill="#131722" stroke="#131722" stroke-width="0.3" textLength="52.3" lengthAdjust="spacingAndGlyphs">4500.00</text>
<text x="1566.3" y="131" fill="#131722" stroke="#131722" stroke-width="0.3" textLength="52.3" lengthAdjust="spacingAndGlyphs">4400.00</text>
<text x="1566.3" y="188" fill="#131722" stroke="#131722" stroke-width="0.3" textLength="52.3" lengthAdjust="spacingAndGlyphs">4300.00</text>
<text x="1566.3" y="246" fill="#131722" stroke="#131722" stroke-width="0.3" textLength="52.3" lengthAdjust="spacingAndGlyphs">4200.00</text>
<text x="1566.3" y="303" fill="#131722" stroke="#131722" stroke-width="0.3" textLength="52.3" lengthAdjust="spacingAndGlyphs">4100.00</text>
<text x="1566.3" y="361" fill="#131722" stroke="#131722" stroke-width="0.3" textLength="52.3" lengthAdjust="spacingAndGlyphs">4000.00</text>
<text x="1566.3" y="406" fill="#131722" stroke="#131722" stroke-width="0.3" textLength="36.5" lengthAdjust="spacingAndGlyphs">80.00</text>
<text x="1566.3" y="462" fill="#131722" stroke="#131722" stroke-width="0.3" textLength="36.5" lengthAdjust="spacingAndGlyphs">60.00</text>
<text x="1566.3" y="518" fill="#131722" stroke="#131722" stroke-width="0.3" textLength="36.5" lengthAdjust="spacingAndGlyphs">40.00</text>
<text x="1566.3" y="596" fill="#131722" stroke="#131722" stroke-width="0.3" textLength="36.5" lengthAdjust="spacingAndGlyphs">40.00</text>
<text x="1566.3" y="671" fill="#131722" stroke="#131722" stroke-width="0.3" textLength="28.6" lengthAdjust="spacingAndGlyphs">0.00</text>
<text x="1566.3" y="709" fill="#131722" stroke="#131722" stroke-width="0.3" textLength="44.5" lengthAdjust="spacingAndGlyphs">−20.00</text>
<text x="1566.3" y="747" fill="#131722" stroke="#131722" stroke-width="0.3" textLength="44.5" lengthAdjust="spacingAndGlyphs">−40.00</text>
<path d="M1556 101.0H1623.3a2.5 2.5 0 0 1 2.5 2.5V119.3a2.5 2.5 0 0 1 -2.5 2.5H1556z" fill="#f23645"/>
<text x="1565.8999999999999" y="117.0" fill="#ffffff" stroke="#ffffff" stroke-width="0.3" textLength="52.6" lengthAdjust="spacingAndGlyphs">4422.98</text>
<path d="M1556 123.0H1623.3a2.5 2.5 0 0 1 2.5 2.5V141.3a2.5 2.5 0 0 1 -2.5 2.5H1556z" fill="#2196f3"/>
<text x="1565.8999999999999" y="139.0" fill="#ffffff" stroke="#ffffff" stroke-width="0.3" textLength="52.6" lengthAdjust="spacingAndGlyphs">4399.52</text>
<path d="M1556 483.0H1607.3a2.5 2.5 0 0 1 2.5 2.5V501.3a2.5 2.5 0 0 1 -2.5 2.5H1556z" fill="#9c54c3"/>
<text x="1565.8999999999999" y="499.0" fill="#ffffff" stroke="#ffffff" stroke-width="0.3" textLength="36.6" lengthAdjust="spacingAndGlyphs">46.94</text>
<path d="M1556 615.4H1607.3a2.5 2.5 0 0 1 2.5 2.5V633.7a2.5 2.5 0 0 1 -2.5 2.5H1556z" fill="#ff6d00"/>
<text x="1565.8999999999999" y="631.4" fill="#ffffff" stroke="#ffffff" stroke-width="0.3" textLength="36.6" lengthAdjust="spacingAndGlyphs">16.60</text>
<path d="M1556 636.2H1607.3a2.5 2.5 0 0 1 2.5 2.5V654.5a2.5 2.5 0 0 1 -2.5 2.5H1556z" fill="#2196f3"/>
<text x="1565.8999999999999" y="652.2" fill="#ffffff" stroke="#ffffff" stroke-width="0.3" textLength="36.6" lengthAdjust="spacingAndGlyphs">10.41</text>
<path d="M1556 668.1H1607.3a2.5 2.5 0 0 1 2.5 2.5V686.4a2.5 2.5 0 0 1 -2.5 2.5H1556z" fill="#ff5252"/>
<text x="1565.8999999999999" y="684.1" fill="#ffffff" stroke="#ffffff" stroke-width="0.3" textLength="36.6" lengthAdjust="spacingAndGlyphs">−6.19</text>
<text x="58.9" y="770.3" fill="#131722" stroke="#131722" stroke-width="0.3" textLength="15.2" lengthAdjust="spacingAndGlyphs">21</text>
<text x="254.5" y="770.3" fill="#131722" stroke="#131722" stroke-width="0.3" textLength="24" lengthAdjust="spacingAndGlyphs">Dec</text>
<text x="391.7" y="770.3" fill="#131722" stroke="#131722" stroke-width="0.3" textLength="7.6" lengthAdjust="spacingAndGlyphs">5</text>
<text x="490.8" y="770.3" fill="#131722" stroke="#131722" stroke-width="0.3" textLength="15.4" lengthAdjust="spacingAndGlyphs">10</text>
<text x="593.8" y="770.3" fill="#131722" stroke="#131722" stroke-width="0.3" textLength="15.4" lengthAdjust="spacingAndGlyphs">15</text>
<text x="723.8" y="770.3" fill="#131722" stroke="#131722" stroke-width="0.3" textLength="15.4" lengthAdjust="spacingAndGlyphs">19</text>
<text x="825.8" y="770.3" fill="#131722" stroke="#131722" stroke-width="0.3" textLength="15.4" lengthAdjust="spacingAndGlyphs">24</text>
<text x="984.7" y="770.3" fill="#131722" stroke="#131722" stroke-width="0.3" textLength="33.6" lengthAdjust="spacingAndGlyphs" font-weight="bold">2026</text>
<text x="1105.7" y="770.3" fill="#131722" stroke="#131722" stroke-width="0.3" textLength="7.6" lengthAdjust="spacingAndGlyphs">7</text>
<text x="1232.2" y="770.3" fill="#131722" stroke="#131722" stroke-width="0.3" textLength="14.6" lengthAdjust="spacingAndGlyphs">11</text>
<text x="1361.8" y="770.3" fill="#131722" stroke="#131722" stroke-width="0.3" textLength="15.4" lengthAdjust="spacingAndGlyphs">15</text>
<text x="1490.8" y="770.3" fill="#131722" stroke="#131722" stroke-width="0.3" textLength="15.4" lengthAdjust="spacingAndGlyphs">19</text>
<path d="M0 0H1632V783H0zM2 2V781H1630V2z" fill="#eef0f5" fill-rule="evenodd"/>
</svg>
</body></html>
